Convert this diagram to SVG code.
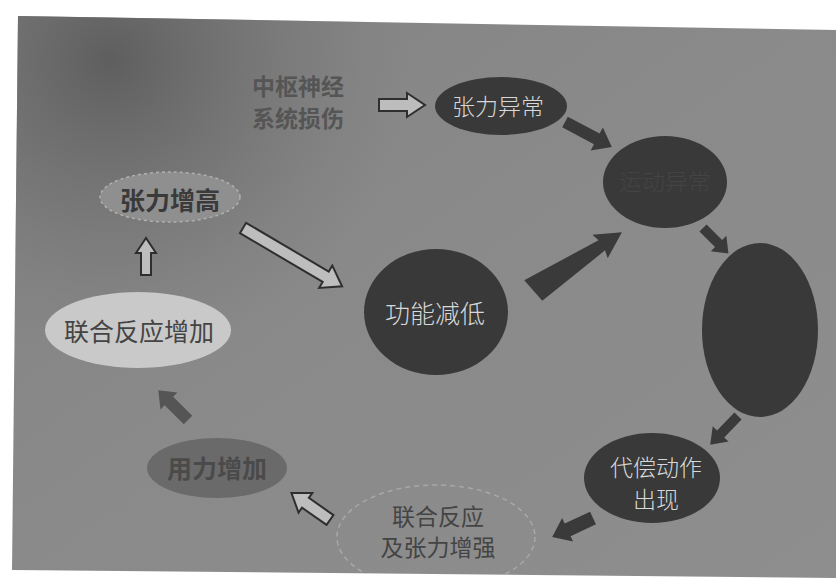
<svg xmlns="http://www.w3.org/2000/svg" width="836" height="583" viewBox="0 0 836 583">
<defs>
<radialGradient id="bg1" gradientUnits="userSpaceOnUse" cx="110" cy="60" r="300">
<stop offset="0" stop-color="#5e5e5e"/>
<stop offset="0.5" stop-color="#6e6e6e" stop-opacity="0.6"/>
<stop offset="1" stop-color="#7a7a7a" stop-opacity="0"/>
</radialGradient>
<linearGradient id="bg0" x1="0" y1="0" x2="1" y2="1">
<stop offset="0" stop-color="#828282"/>
<stop offset="0.5" stop-color="#8a8a8a"/>
<stop offset="1" stop-color="#8e8e8e"/>
</linearGradient>
<clipPath id="photo"><polygon points="18,16 836,30 836,578 12,570"/></clipPath>
<style>
.t{font-family:"Noto Sans CJK SC","Noto Sans",sans-serif;text-anchor:middle;dominant-baseline:central}
.w{fill:#d8d8d8;font-size:23px;font-weight:300}
.d{fill:#444;font-size:24px}
.b{font-weight:bold}
.dark{fill:#393939}
.solid{fill:#3a3a3a}
.hollow{fill:#bdbdbd;stroke:#2e2e2e;stroke-width:2;stroke-linejoin:miter}
</style>
</defs>
<rect width="836" height="583" fill="#fff"/>
<g clip-path="url(#photo)">
<rect width="836" height="583" fill="url(#bg0)"/>
<rect width="836" height="583" fill="url(#bg1)"/>
</g>

<g id="connectors">
<path class="hollow" transform="translate(379,105)" d="M0,-6 H28 V-12 L46,0 L28,12 V6 H0 Z"/>
<path class="solid" transform="translate(565,122) rotate(28)" d="M0,-6 H36 V-13 L53,0 L36,13 V6 H0 Z"/>
<path class="solid" transform="translate(703,228) rotate(45)" d="M0,-5 H22 V-11 L36,0 L22,11 V5 H0 Z"/>
<path class="solid" transform="translate(738,416) rotate(134)" d="M0,-5 H25 V-11 L40,0 L25,11 V5 H0 Z"/>
<path class="solid" transform="translate(593,518) rotate(155)" d="M0,-7 H28 V-13 L45,0 L28,13 V7 H0 Z"/>
<path class="hollow" transform="translate(330,520) rotate(-145)" d="M0,-6 H30 V-12 L47,0 L30,12 V6 H0 Z"/>
<path fill="#555" transform="translate(188,420) rotate(-135)" d="M0,-6 H27 V-12 L42,0 L27,12 V6 H0 Z"/>
<path class="hollow" transform="translate(146,275) rotate(-90)" d="M0,-5 H22 V-10 L37,0 L22,10 V5 H0 Z"/>
<path class="hollow" transform="translate(243,228) rotate(30.5)" d="M0,-6 H96 V-13 L115,0 L96,13 V6 H0 Z"/>
<path class="solid" transform="translate(533,290) rotate(-33)" d="M-2,-13 L82,-6 L80,-14 L106,0 L80,14 L82,6 L2,14 Z"/>
</g>

<g id="n-cns">
<text class="t d b" x="298" y="85" style="fill:#555;font-size:23px">中枢神经</text>
<text class="t d b" x="298" y="117" style="fill:#555;font-size:23px">系统损伤</text>
</g>
<g id="n-tension-abn">
<ellipse class="dark" cx="501" cy="106" rx="66" ry="29"/>
<text class="t w" x="498" y="105">张力异常</text>
</g>
<g id="n-motor-abn">
<ellipse class="dark" cx="665" cy="182" rx="62" ry="46"/>
<text class="t w" x="665" y="180" style="fill:#444">运动异常</text>
</g>
<g id="n-tall">
<ellipse class="dark" cx="760" cy="330" rx="58" ry="87"/>
</g>
<g id="n-comp">
<ellipse class="dark" cx="652" cy="478" rx="68" ry="45"/>
<text class="t w" x="656" y="466">代偿动作</text>
<text class="t w" x="656" y="498">出现</text>
</g>
<g id="n-assoc-strong">
<g clip-path="url(#photo)">
<ellipse cx="436" cy="537" rx="99" ry="52" fill="none" stroke="#a8a8a8" stroke-width="1.5" stroke-dasharray="5,4"/>
</g>
<text class="t d" x="438" y="515" style="font-size:23px">联合反应</text>
<text class="t d" x="438" y="546" style="font-size:23px">及张力增强</text>
</g>
<g id="n-force">
<ellipse cx="217" cy="468" rx="70" ry="30" fill="#6a6a6a"/>
<text class="t d b" x="217" y="467" style="fill:#4a4a4a;font-size:25px">用力增加</text>
</g>
<g id="n-assoc-inc">
<ellipse cx="138" cy="330" rx="93" ry="38" fill="#c9c9c9"/>
<text class="t d" x="139" y="330" style="font-size:25px">联合反应增加</text>
</g>
<g id="n-tension-inc">
<ellipse cx="170" cy="197" rx="70" ry="25" fill="#8f8f8f" stroke="#b0b0b0" stroke-width="1.5" stroke-dasharray="3,3"/>
<text class="t d b" x="170" y="199" style="fill:#3a3a3a;font-size:25px">张力增高</text>
</g>
<g id="n-func">
<ellipse class="dark" cx="436" cy="312" rx="72" ry="63"/>
<text class="t w" x="435" y="312" style="font-size:25px">功能减低</text>
</g>
</svg>
